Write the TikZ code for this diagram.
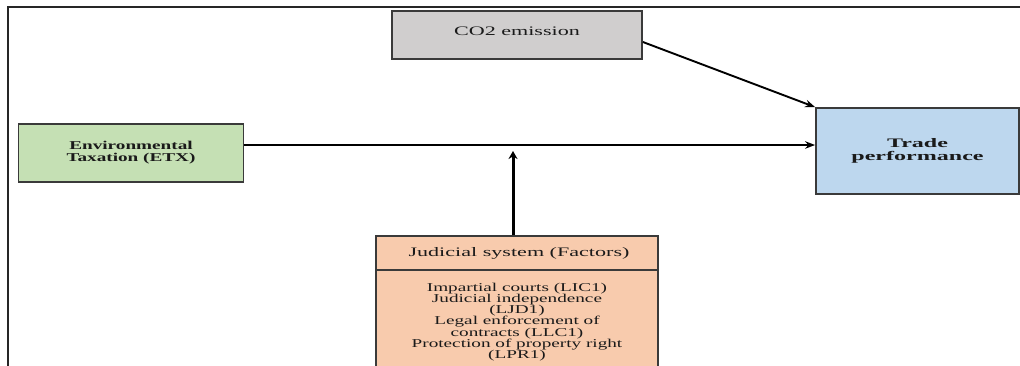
\documentclass[tikz,border=0pt]{standalone}
\usepackage{fontspec}
\setmainfont{Liberation Serif}
\newfontfamily\widefont{Liberation Serif}[FakeStretch=1.7]
\newfontfamily\midfont{Liberation Serif}[FakeStretch=1.6]
\newfontfamily\tradefont{Liberation Serif}[FakeStretch=1.85]
\usetikzlibrary{arrows.meta}
\definecolor{boxline}{HTML}{3A3A3A}
\definecolor{cogray}{HTML}{D0CECE}
\definecolor{etxgreen}{HTML}{C5E0B4}
\definecolor{tradeblue}{HTML}{BDD7EE}
\definecolor{judorange}{HTML}{F8CBAD}
\definecolor{textdark}{HTML}{1A1A1A}
\tikzset{
  box/.style={draw=boxline, line width=1.8pt, inner sep=0pt, align=center, text=textdark},
  arr/.style={line width=1.9pt, -{Stealth[length=10pt,width=7.5pt]}},
  thickarr/.style={line width=3pt, -{Stealth[length=8pt,width=9pt]}},
  frameline/.style={draw=black!85, line width=2.2pt},
  plain/.style={align=center, inner sep=0pt, text=textdark},
}
\begin{document}
\begin{tikzpicture}[x=1pt,y=-1pt]
\useasboundingbox (0,0) rectangle (1020,365);
\clip (0,0) rectangle (1020,365);
\fill[white] (0,0) rectangle (1020,365);
% frame
\draw[frameline] (1030,7) -- (8,7) -- (8,375);
% boxes
\node[box, fill=cogray, minimum width=250pt, minimum height=48pt,
      text height=6pt, text depth=6pt,
      font=\widefont\fontsize{13}{13}\selectfont] (co2) at (517,35) {CO2 emission};
\node[box, fill=etxgreen, minimum width=225pt, minimum height=58pt,
      font=\midfont\bfseries\fontsize{12}{11.8}\selectfont] (etx) at (131,153) {Environmental\\Taxation (ETX)};
\node[box, fill=tradeblue, minimum width=203pt, minimum height=86pt,
      font=\tradefont\bfseries\fontsize{13}{12.5}\selectfont] (trade) at (917.5,151) {Trade\\performance};
\node[box, fill=judorange, minimum width=282pt, minimum height=140pt, anchor=north] (jud) at (517,235) {};
\coordinate (div) at (0,270);
\draw[draw=boxline, line width=1.3pt] (jud.west |- div) -- (jud.east |- div);
\node[plain, font=\widefont\fontsize{13}{13}\selectfont] (judhead) at (519,253) {Judicial system (Factors)};
\node[plain, font=\midfont\fontsize{12}{11.2}\selectfont] (judlist) at (517,322)
  {Impartial courts (LIC1)\\Judicial independence\\(LJD1)\\Legal enforcement of\\contracts (LLC1)\\Protection of property right\\(LPR1)};
% connectors
\coordinate (hline) at (0,145);
\coordinate (co2out) at (0,42);
\coordinate (vtip) at (513,151);
\coordinate (vbase) at (513,235);
\draw[arr] (etx.east |- hline) -- (trade.west |- hline);
\draw[arr] (co2.east |- co2out) -- (trade.north west);
\draw[thickarr] (vbase) -- (vtip);
\end{tikzpicture}
\end{document}
